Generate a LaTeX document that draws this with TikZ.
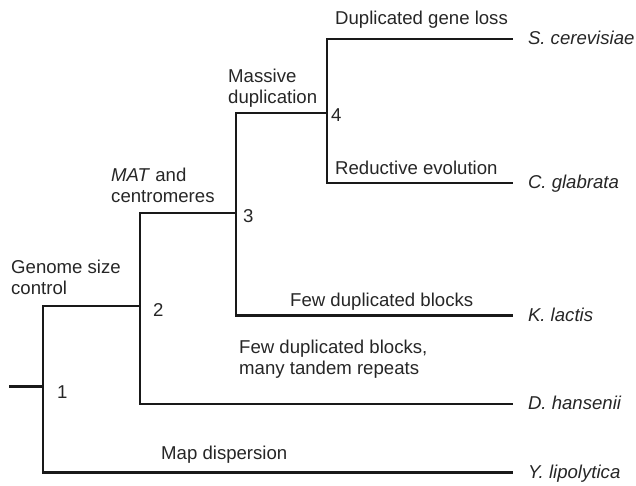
\documentclass[tikz,border=0pt]{standalone}
\usepackage{fontspec}
\setmainfont{Liberation Sans}
\begin{document}
\begin{tikzpicture}[x=1pt,y=-1pt,
  branch/.style={line width=2.8pt,line join=miter,line cap=rect,color=black!90},
  lbl/.style={inner sep=0pt,anchor=base west,align=left,font=\fontsize{18.6}{20.8}\selectfont,text=black!85},
  num/.style={inner sep=0pt,anchor=base west,font=\fontsize{18.6}{20.8}\selectfont,text=black!85},
  species/.style={anchor=west,inner xsep=0pt,outer sep=0pt,inner ysep=0pt,text height=13pt,text depth=2pt,
    font=\fontsize{18.6}{20.8}\selectfont\itshape,text=black!85},
  ]
\useasboundingbox (0,0) rectangle (636,485);
% tree nodes
\coordinate (root) at (10,386.5);
\coordinate (n1) at (43,386.5);
\coordinate (n2) at (140,306);
\coordinate (n3) at (236,213);
\coordinate (n4) at (327,113);
% leaves
\node[species] (sc) at (512,39) {\hspace*{16pt}S. cerevisiae};
\node[species] (cg) at (512,183) {\hspace*{16pt}C. glabrata};
\node[species] (kl) at (512,315.5) {\hspace*{16pt}K. lactis};
\node[species] (dh) at (512,404) {\hspace*{16pt}D. hansenii};
\node[species] (yl) at (512,472.5) {\hspace*{16pt}Y. lipolytica};
% branches
\draw[branch] (root) -- (n1);
\draw[branch] (n1) |- (n2);
\draw[branch] (n1) |- (yl.west);
\draw[branch] (n2) |- (n3);
\draw[branch] (n2) |- (dh.west);
\draw[branch] (n3) |- (n4);
\draw[branch] (n3) |- (kl.west);
\draw[branch] (n4) |- (sc.west);
\draw[branch] (n4) |- (cg.west);
% numbers
\node[num] (l1) at (57,398) {1};
\node[num] (l2) at (153,316) {2};
\node[num] (l3) at (243,222) {3};
\node[num] (l4) at (331,121) {4};
% labels (base anchor = baseline of last line)
\node[lbl] (gsc) at (11,294) {Genome size\\control};
\node[lbl] (mat) at (111,202) {\textit{MAT} and\\centromeres};
\node[lbl] (md) at (228,103) {Massive\\duplication};
\node[lbl] (dgl) at (335,24) {Duplicated gene loss};
\node[lbl] (re) at (335,174) {Reductive evolution};
\node[lbl] (fdb) at (290,306) {Few duplicated blocks};
\node[lbl] (fdbm) at (239,374) {Few duplicated blocks,\\many tandem repeats};
\node[lbl] (mdisp) at (161,459) {Map dispersion};
\end{tikzpicture}
\end{document}
